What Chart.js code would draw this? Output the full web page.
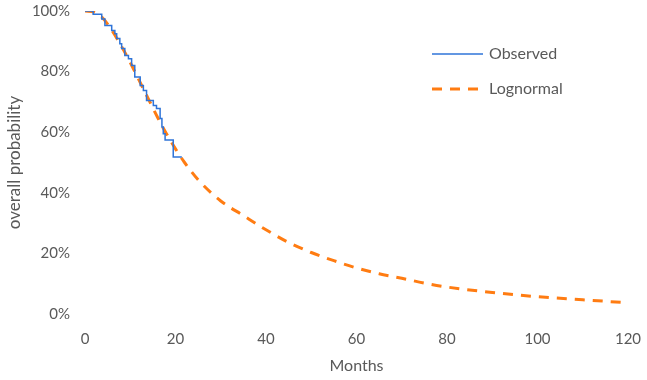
<!DOCTYPE html>
<html>
<head>
<meta charset="utf-8">
<script src="https://cdn.jsdelivr.net/npm/chart.js@4"></script>
<style>
  html, body { margin: 0; padding: 0; background: #fff; }
  #wrap { width: 647px; height: 380px; }
</style>
</head>
<body>
<div id="wrap"><canvas id="myChart" width="647" height="380"></canvas></div>
<script>
// observed (Kaplan-Meier style steps), months vs survival %
var obsMonths = [0, 1.8, 3.7, 4.4, 5.9, 6.6, 7.0, 7.7, 8.1, 8.8, 9.6, 10.3, 11.0, 12.2, 12.9, 13.6, 15.1, 15.8, 16.6, 17.0, 17.3, 17.7, 19.5, 21.4];
var obsSurv   = [100, 98.9, 97.4, 95.2, 93.6, 92.5, 90.9, 89.2, 87.6, 85.3, 84.2, 82.0, 78.2, 75.4, 73.8, 70.5, 68.8, 67.8, 64.5, 61.7, 59.5, 57.4, 51.8, 51.8];

// lognormal fit
var lnMonths = [0, 2, 4, 6, 8, 10, 12, 14, 16, 18, 20, 22, 25, 30, 35, 40, 45, 50, 55, 60, 65, 70, 75, 80, 90, 100, 110, 120];
var lnSurv   = [100, 99.6, 97.5, 93.5, 88.5, 83, 77, 71, 65, 59.5, 54.5, 50, 44.3, 37.3, 32.5, 27.8, 23.6, 20.3, 17.6, 15.2, 13.3, 11.8, 10.2, 8.9, 7.1, 5.7, 4.7, 3.7];

var xTicks = [0, 20, 40, 60, 80, 100, 120];
var yTicks = [0, 20, 40, 60, 80, 100];

var seriesNames = ['Observed', 'Lognormal'];
var textColor = '#595959';
var fontFam = 'Lato, "Open Sans", sans-serif';

function toPoints(xs, ys) {
    var pts = [];
    for (var i = 0; i < xs.length; i++) pts.push({x: xs[i], y: ys[i]});
    return pts;
}

// legend drawn inside the plot, like the spreadsheet one
var insideLegend = {
    id: 'insideLegend',
    afterDraw: function (chart) {
        var ctx = chart.ctx;
        var rows = [54, 89];
        ctx.save();
        chart.data.datasets.forEach(function (ds, i) {
            var y = rows[i];
            ctx.beginPath();
            ctx.strokeStyle = ds.borderColor;
            ctx.lineWidth = ds.borderWidth;
            ctx.setLineDash(ds.borderDash || []);
            ctx.moveTo(432, y);
            ctx.lineTo(483, y);
            ctx.stroke();
            ctx.setLineDash([]);
            ctx.fillStyle = textColor;
            ctx.font = '16px ' + fontFam;
            ctx.textBaseline = 'middle';
            ctx.textAlign = 'left';
            ctx.fillText(ds.label, 489, y);
        });
        ctx.restore();
    }
};

new Chart('myChart', {
    type: 'scatter',
    data: {
        datasets: [{
            label: seriesNames[0],
            data: toPoints(obsMonths, obsSurv),
            showLine: true,
            stepped: true,
            borderColor: '#2f74d8',
            borderWidth: 1.5,
            pointRadius: 0,
            order: 0
        }, {
            label: seriesNames[1],
            data: toPoints(lnMonths, lnSurv),
            showLine: true,
            cubicInterpolationMode: 'monotone',
            borderColor: '#ff7c12',
            borderWidth: 3,
            borderDash: [10, 8],
            pointRadius: 0,
            order: 1
        }]
    },
    options: {
        responsive: false,
        animation: false,
        layout: { padding: { top: 11, right: 19, bottom: 0, left: 0 } },
        plugins: {
            legend: { display: false },
            tooltip: { enabled: false }
        },
        scales: {
            x: {
                type: 'linear',
                min: 0, max: 120,
                afterBuildTicks: function (s) { s.ticks = xTicks.map(function (v) { return {value: v}; }); },
                grid: { display: false, drawTicks: false },
                border: { display: false },
                ticks: { color: textColor, font: { family: fontFam, size: 15 }, padding: 16, maxRotation: 0 },
                title: { display: true, text: 'Months', color: textColor, font: { family: fontFam, size: 16 }, padding: { top: 0, bottom: 5 } },
                afterFit: function (s) { s.height = 66; s.paddingLeft = 0; s.paddingRight = 0; }
            },
            y: {
                min: 0, max: 100,
                afterBuildTicks: function (s) { s.ticks = yTicks.map(function (v) { return {value: v}; }); },
                grid: { display: false, drawTicks: false },
                border: { display: false },
                ticks: { color: textColor, font: { family: fontFam, size: 15 }, padding: 15, callback: function (v) { return v + '%'; } },
                title: { display: true, text: 'overall probability', color: textColor, font: { family: fontFam, size: 17 }, padding: { top: 4, bottom: 0 } },
                afterFit: function (s) { s.width = 85; s.paddingTop = 0; s.paddingBottom = 0; }
            }
        }
    },
    plugins: [insideLegend]
});
</script>
</body>
</html>
